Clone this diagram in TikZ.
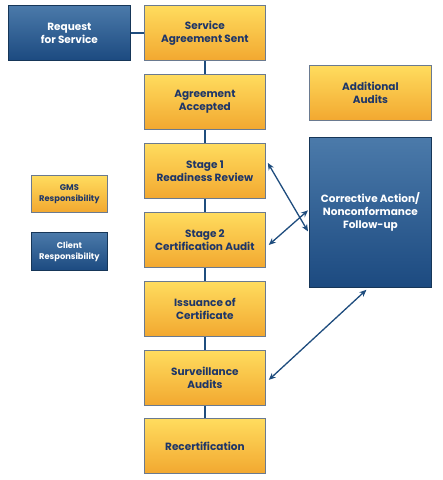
\documentclass[tikz,border=0pt]{standalone}
\usepackage{fontspec}
\setmainfont{Poppins}
\usetikzlibrary{arrows.meta}
\definecolor{ytop}{HTML}{FFDC5E}
\definecolor{ybot}{HTML}{F2A830}
\definecolor{btop}{HTML}{4B7AAA}
\definecolor{bbot}{HTML}{1C4A80}
\definecolor{navy}{HTML}{1E3668}
\definecolor{edgeblue}{HTML}{1F4D7E}
\definecolor{yborder}{HTML}{6A7A90}
\tikzset{
  ybox/.style={draw=yborder, line width=0.8pt, top color=ytop, bottom color=ybot, minimum width=121pt, minimum height=55pt, inner sep=0pt, align=center, text=navy, anchor=north west, font=\bfseries\fontsize{10.5}{13}\selectfont},
  bbox/.style={draw=edgeblue!70!black, line width=0.8pt, top color=btop, bottom color=bbot, minimum width=122pt, minimum height=55pt, inner sep=0pt, align=center, text=white, anchor=north west, font=\bfseries\fontsize{10.5}{13}\selectfont},
  smalltext/.style={font=\bfseries\fontsize{8.3}{11}\selectfont},
  link/.style={draw=edgeblue, line width=1.6pt},
  twoway/.style={draw=edgeblue, line width=1.3pt, {Stealth[length=7pt,width=6pt]}-{Stealth[length=7pt,width=6pt]}}
}
\begin{document}
\begin{tikzpicture}[x=1pt,y=1pt]
\useasboundingbox (0,0) rectangle (443,-480);
\fill[white] (0,0) rectangle (443,-480);
% main column
\node[bbox] (req) at (8,-5) {Request\\for Service};
\node[ybox] (sas) at (144,-5) {Service\\Agreement Sent};
\node[ybox] (acc) at (144,-74) {Agreement\\Accepted};
\node[ybox] (s1) at (144,-143) {Stage 1\\Readiness Review};
\node[ybox] (s2) at (144,-212) {Stage 2\\Certification Audit};
\node[ybox] (iss) at (144,-281) {Issuance of\\Certificate};
\node[ybox] (sur) at (144,-350) {Surveillance\\Audits};
\node[ybox] (rec) at (144,-418) {Recertification};
% legend
\node[ybox, smalltext, minimum width=76pt, minimum height=37pt] (gms) at (31,-175) {GMS\\Responsibility};
\node[bbox, smalltext, minimum width=76pt, minimum height=38pt] (cli) at (31,-232) {Client\\Responsibility};
% right side
\node[ybox, minimum width=122pt] (add) at (309,-65) {Additional\\Audits};
\node[bbox, minimum width=122pt, minimum height=150pt] (ca) at (309,-137) {Corrective Action/\\Nonconformance\\Follow-up};
% connectors
\draw[link] (req) -- (sas);
\draw[link] (sas) -- (acc);
\draw[link] (acc) -- (s1);
\draw[link] (s1) -- (s2);
\draw[link] (s2) -- (iss);
\draw[link] (iss) -- (sur);
\draw[link] (sur) -- (rec);
\draw[twoway] ([xshift=2pt,yshift=8pt]s1.east) -- ([xshift=-1pt,yshift=-19pt]ca.west);
\draw[twoway] ([xshift=3pt,yshift=-5pt]s2.east) -- ([xshift=-1pt,yshift=2pt]ca.west);
\draw[twoway] ([xshift=3pt,yshift=-2pt]sur.east) -- ([xshift=-4pt,yshift=-2pt]ca.south);
\end{tikzpicture}
\end{document}
